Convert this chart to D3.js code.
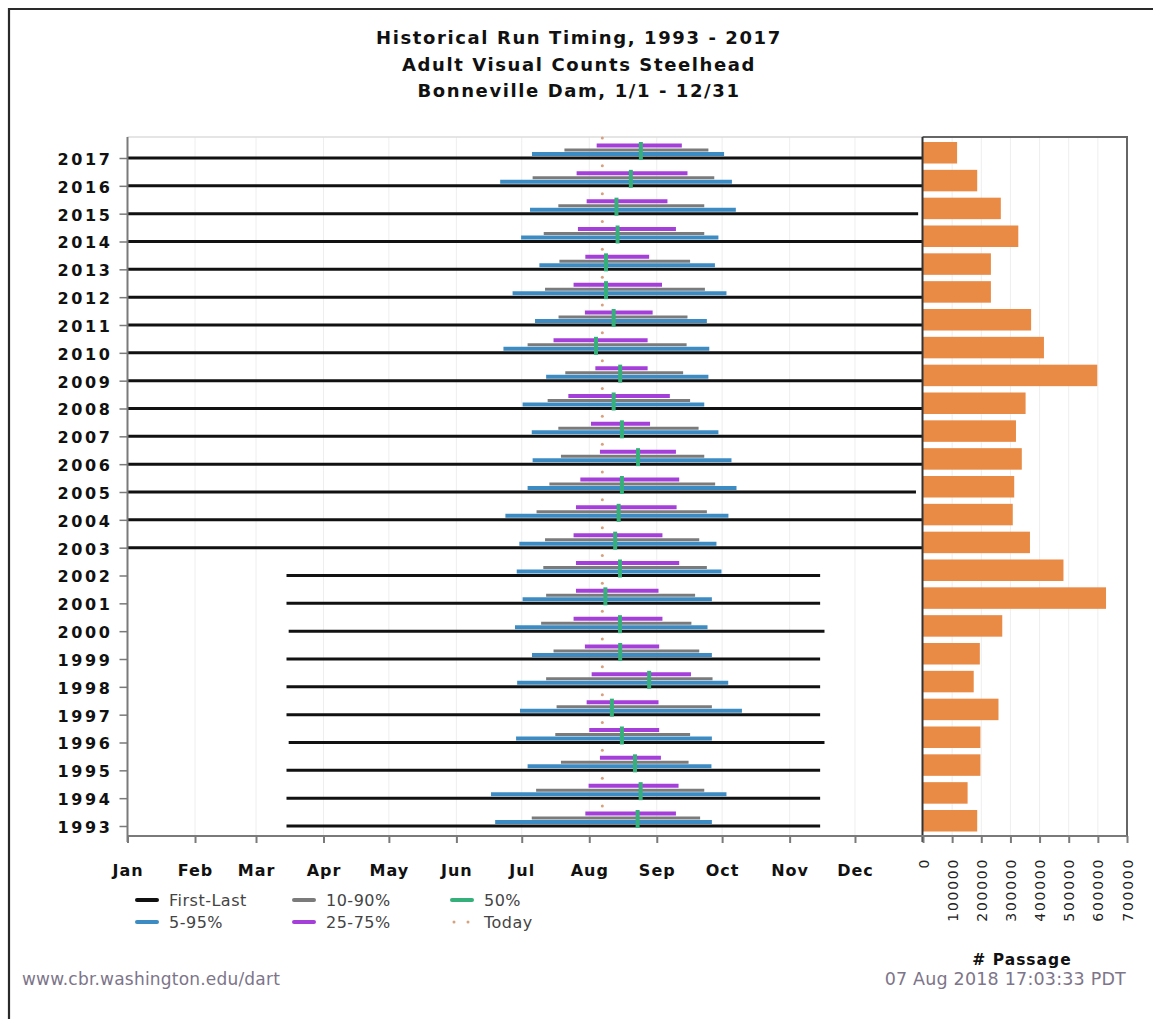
<!DOCTYPE html>
<html><head><meta charset="utf-8">
<script src="https://cdn.jsdelivr.net/npm/d3@7"></script>
<style>
html,body{margin:0;padding:0;background:#fff;}
svg{display:block;}
</style></head>
<body>
<svg id="chart" width="1153" height="1019"></svg>
<script>
// ---- data (day-of-year, 0 = Jan 1) ----
const years     = [1993,1994,1995,1996,1997,1998,1999,2000,2001,2002,2003,2004,2005,2006,2007,2008,2009,2010,2011,2012,2013,2014,2015,2016,2017];
const firstDay  = [73,73,73,74,73,73,73,74,73,73,0,0,0,0,0,0,0,0,0,0,0,0,0,0,0];
const lastDay   = [318,318,318,320,318,318,318,320,318,318,365,365,362,365,365,365,365,365,365,365,365,365,363,365,365];
const p05       = [168.8,166.9,183.7,178.4,180.2,178.9,185.7,177.9,181.4,178.7,179.9,173.5,183.7,186.0,185.6,181.4,192.2,172.6,187.1,176.8,189.1,180.7,184.8,171.1,185.7];
const p95       = [268.3,275.0,268.1,268.3,282.1,275.8,268.3,266.3,268.3,272.7,270.4,275.9,279.6,277.3,271.3,264.8,266.7,267.1,266.0,275.0,269.7,271.3,279.3,277.5,273.9];
const p10       = [185.6,187.6,199.0,196.4,197.0,192.2,195.6,189.9,192.2,190.9,191.7,187.8,193.7,199.0,197.8,192.9,201.0,183.7,197.9,191.7,198.3,191.1,197.8,186.0,200.6];
const p90       = [262.9,264.8,257.6,258.3,268.3,268.6,262.5,258.9,260.6,266.0,262.5,266.0,269.8,264.8,262.2,258.3,255.1,256.7,257.1,265.1,258.3,264.8,264.8,269.4,266.7];
const p25       = [210.2,211.7,216.9,212.0,210.8,213.1,210.0,204.8,205.9,205.9,204.8,205.9,207.9,216.9,212.8,202.4,214.8,195.6,210.0,204.8,210.2,206.8,210.8,206.2,215.4];
const p75       = [251.8,253.0,244.9,244.1,243.8,258.7,244.1,245.6,243.8,253.3,245.6,252.1,253.3,251.8,239.9,249.0,238.8,238.8,241.1,245.4,239.5,251.8,247.9,257.1,254.5];
const p50       = [234.2,235.6,233.0,227.0,222.4,239.5,226.2,226.1,219.4,226.1,223.9,225.5,227.0,234.4,227.0,223.2,226.2,215.1,223.2,219.7,219.7,225.0,224.5,231.1,235.7];
const passage   = [186000,153000,197000,197000,259000,174000,195000,272000,628000,482000,367000,308000,313000,339000,319000,352000,598000,415000,371000,233000,233000,327000,267000,186000,117000];
const todayDay  = 218; // 07 Aug
const monthStarts = [0,31,59,90,120,151,181,212,243,273,304,334];
const monthLabels = ["Jan","Feb","Mar","Apr","May","Jun","Jul","Aug","Sep","Oct","Nov","Dec"];
const passageTicks = [0,100000,200000,300000,400000,500000,600000,700000];
const titleLines = ["Historical Run Timing, 1993 - 2017","Adult Visual Counts Steelhead","Bonneville Dam, 1/1 - 12/31"];
const legendItems = [
  {label:"First-Last", key:"fl"},{label:"10-90%", key:"p10"},{label:"50%", key:"p50"},
  {label:"5-95%", key:"p05"},{label:"25-75%", key:"p25"},{label:"Today", key:"today"}];

// ---- styles ----
const C = {fl:"#111111", p05:"#3c8cc3", p10:"#7b7b7b", p25:"#a43fd9", p50:"#35b07a", today:"#d9a07e", bar:"#e98a45", axis:"#7a7a7a", grid:"#eeeeee", foot:"#7d7589"};

const svg = d3.select("#chart");
const L = 127.5, R = 922.5, R2 = 1127, T = 137, B = 836;

const x = d3.scaleLinear().domain([0,365]).range([L,R]);
const y = d3.scalePoint().domain(years.slice().reverse()).range([158,826]);
const px = d3.scaleLinear().domain([0,700000]).range([R+0.5,R2]);

// outer frame
svg.append("path").attr("d",`M9,1019 V9 H1153`).attr("fill","none").attr("stroke","#2a2a2a").attr("stroke-width",2.2);

// title
svg.append("g").selectAll("text").data(titleLines).join("text")
  .attr("x",579).attr("y",(d,i)=>44+i*26.5).attr("text-anchor","middle")
  .attr("font-family","DejaVu Sans").attr("font-weight","bold").attr("font-size",18)
  .attr("letter-spacing",1.6).attr("fill","#111").text(d=>d);

// grid lines
svg.append("g").selectAll("line").data(monthStarts.slice(1)).join("line")
  .attr("x1",d=>x(d)).attr("x2",d=>x(d)).attr("y1",T).attr("y2",B)
  .attr("stroke",C.grid).attr("stroke-width",1);
svg.append("g").selectAll("line").data(passageTicks.slice(1,-1)).join("line")
  .attr("x1",d=>px(d)).attr("x2",d=>px(d)).attr("y1",T).attr("y2",B)
  .attr("stroke",C.grid).attr("stroke-width",1);

// plot top border
svg.append("line").attr("x1",L).attr("x2",R).attr("y1",T).attr("y2",T).attr("stroke","#dddddd").attr("stroke-width",1.5);
svg.append("path").attr("d",`M${R},${T} H${R2} V${B}`).attr("fill","none").attr("stroke","#666").attr("stroke-width",2);

const rows = years.map((yr,i)=>({yr, i}));

// passage bars
svg.append("g").selectAll("rect").data(rows).join("rect")
  .attr("x",px(0)).attr("y",d=>y(d.yr)-16).attr("height",21.5)
  .attr("width",d=>px(passage[d.i])-px(0)).attr("fill",C.bar);

// timing lines
const g = svg.append("g");
function seg(a, b, dy, w, col){
  g.append("g").selectAll("line").data(rows).join("line")
    .attr("x1",d=>x(a[d.i])).attr("x2",d=>x(b[d.i]))
    .attr("y1",d=>y(d.yr)+dy).attr("y2",d=>y(d.yr)+dy)
    .attr("stroke",col).attr("stroke-width",w);
}
seg(firstDay, lastDay, 0, 3, C.fl);
seg(p05, p95, -4, 4, C.p05);
seg(p10, p90, -8, 3, C.p10);
seg(p25, p75, -12.5, 4, C.p25);
g.append("g").selectAll("line").data(rows).join("line")
  .attr("x1",d=>x(p50[d.i])).attr("x2",d=>x(p50[d.i]))
  .attr("y1",d=>y(d.yr)-16).attr("y2",d=>y(d.yr)+2)
  .attr("stroke",C.p50).attr("stroke-width",4);
g.append("g").selectAll("circle").data(rows).join("circle")
  .attr("cx",x(todayDay)).attr("cy",d=>y(d.yr)-20).attr("r",1.5).attr("fill",C.today);

// axes lines
svg.append("line").attr("x1",L).attr("x2",L).attr("y1",T).attr("y2",B+6).attr("stroke",C.axis).attr("stroke-width",2);
svg.append("line").attr("x1",R).attr("x2",R).attr("y1",T).attr("y2",B+6).attr("stroke","#333").attr("stroke-width",2);
svg.append("line").attr("x1",L).attr("x2",R2).attr("y1",B).attr("y2",B).attr("stroke",C.axis).attr("stroke-width",2);

// y axis (years)
const yAxis = svg.append("g").attr("transform",`translate(${L},0)`)
  .call(d3.axisLeft(y).tickSize(8).tickPadding(7));
yAxis.select(".domain").remove();
yAxis.selectAll(".tick line").attr("stroke",C.axis).attr("stroke-width",1.5);
yAxis.selectAll("text").attr("font-family","DejaVu Sans").attr("font-weight","bold")
  .attr("font-size",16).attr("letter-spacing",2.6).attr("fill","#111").attr("dy","0.4em");

// x axis (months)
const xAxis = svg.append("g").attr("transform",`translate(0,${B})`)
  .call(d3.axisBottom(x).tickValues(monthStarts).tickFormat((d,i)=>monthLabels[i]).tickSize(7).tickPadding(22));
xAxis.select(".domain").remove();
xAxis.selectAll(".tick line").attr("stroke",C.axis).attr("stroke-width",2);
xAxis.selectAll("text").attr("font-family","DejaVu Sans").attr("font-weight","bold")
  .attr("font-size",16).attr("letter-spacing",1).attr("fill","#111");

// passage axis
const pAxis = svg.append("g").attr("transform",`translate(0,${B})`)
  .call(d3.axisBottom(px).tickValues(passageTicks).tickFormat(d3.format("d")).tickSize(7));
pAxis.select(".domain").remove();
pAxis.selectAll(".tick line").attr("stroke",C.axis).attr("stroke-width",2);
pAxis.selectAll("text").attr("font-family","DejaVu Sans").attr("font-size",14)
  .attr("letter-spacing",1.7).attr("fill","#222")
  .attr("transform","rotate(-90)").attr("text-anchor","end")
  .attr("x",-22).attr("y",0).attr("dy","0.36em");

svg.append("text").attr("x",1022).attr("y",965).attr("text-anchor","middle")
  .attr("font-family","DejaVu Sans").attr("font-weight","bold").attr("font-size",15.5)
  .attr("letter-spacing",1).attr("fill","#111").text("# Passage");

// legend
const lg = svg.append("g");
legendItems.forEach((it,i)=>{
  const col = i%3, row = Math.floor(i/3);
  const lx = [137,294,452][col], ly = 900 + row*22;
  if(it.key==="today"){
    lg.append("circle").attr("cx",lx+2).attr("cy",ly).attr("r",1.5).attr("fill",C.today);
    lg.append("circle").attr("cx",lx+16).attr("cy",ly).attr("r",1.5).attr("fill",C.today);
  } else {
    lg.append("line").attr("x1",lx).attr("x2",lx+20).attr("y1",ly).attr("y2",ly)
      .attr("stroke",C[it.key]).attr("stroke-width",4).attr("stroke-linecap","round");
  }
  lg.append("text").attr("x",lx+32).attr("y",ly).attr("dy","0.36em")
    .attr("font-family","DejaVu Sans").attr("font-size",16).attr("letter-spacing",0.5)
    .attr("fill","#444").text(it.label);
});

// footer
svg.append("text").attr("x",22).attr("y",985).attr("font-family","DejaVu Sans")
  .attr("font-size",17).attr("letter-spacing",0.2).attr("fill",C.foot).text("www.cbr.washington.edu/dart");
svg.append("text").attr("x",1126).attr("y",985).attr("text-anchor","end").attr("font-family","DejaVu Sans")
  .attr("font-size",17.5).attr("letter-spacing",0.2).attr("fill",C.foot).text("07 Aug 2018 17:03:33 PDT");
</script>
</body></html>
